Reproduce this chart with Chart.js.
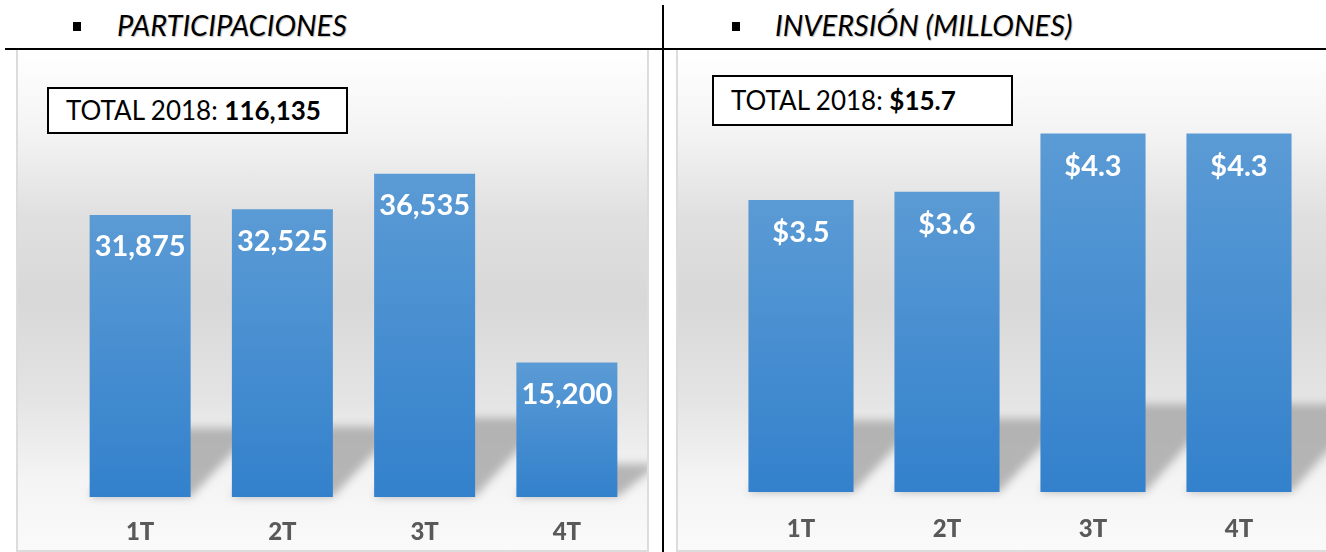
<!DOCTYPE html>
<html>
<head>
<meta charset="utf-8">
<script src="https://cdn.jsdelivr.net/npm/chart.js@4"></script>
<style>
  body { margin: 0; background: #fff; width: 1326px; height: 552px; position: relative; overflow: hidden; font-family: Lato, "Open Sans", sans-serif; }
  .hline { position: absolute; left: 5px; top: 48px; width: 1321px; height: 2px; background: #000; }
  .vline { position: absolute; left: 662px; top: 5px; width: 2px; height: 547px; background: #000; }
  .head { position: absolute; top: 7px; font-style: italic; font-size: 29px; color: #000; text-shadow: 1px 1px 1px rgba(0,0,0,0.25); }
  .bullet { position: absolute; top: 22px; width: 8px; height: 9px; background: #000; }
  .panel { position: absolute; top: 50px; height: 500px; border: 2px solid #dcdcdc; border-top: none;
    background: linear-gradient(#ffffff 0%, #f4f4f4 16%, #e0e0e0 33%, #d8d8d8 50%, #e4e4e4 70%, #f4f4f4 86%, #fafafa 100%); }
  .panel canvas { position: absolute; left: 0; top: 0; }
  .total { position: absolute; border: 2px solid #000; background: #fff; font-size: 26px; box-sizing: border-box; padding-left: 17px; }
</style>
</head>
<body>
<div class="bullet" style="left:73px"></div>
<div class="head" style="left:117px">PARTICIPACIONES</div>
<div class="bullet" style="left:732px"></div>
<div class="head" style="left:775px">INVERSIÓN (MILLONES)</div>
<div class="hline"></div>
<div class="vline"></div>

<div class="panel" style="left:16px; width:629px;"><canvas id="partChart" width="629" height="500"></canvas></div>
<div class="panel" style="left:676px; width:648px;"><canvas id="invChart" width="648" height="500"></canvas></div>

<div class="total" style="left:47px; top:87px; width:301px; height:47px; line-height:42px;">TOTAL 2018: <b id="partTotal"></b></div>
<div class="total" style="left:712px; top:75px; width:301px; height:51px; line-height:46px;">TOTAL 2018: <b id="invTotal"></b></div>

<script>
// quarters and values
const quarters = ['1T', '2T', '3T', '4T'];
const participaciones = [31875, 32525, 36535, 15200];
const inversion = [3.5, 3.6, 4.3, 4.3];  // millions
const partTotal = '116,135';
const invTotal = '$15.7';

document.getElementById('partTotal').textContent = partTotal;
document.getElementById('invTotal').textContent = invTotal;

// per-bar vertical gradient
function barGradient(c) {
    if (c.type !== 'data') return '#4a8fd2';
    const chart = c.chart;
    const y = chart.scales.y;
    const top = y.getPixelForValue(c.raw);
    const base = y.getPixelForValue(0);
    if (!isFinite(top) || !isFinite(base) || top === base) return '#4a8fd2';
    const g = chart.ctx.createLinearGradient(0, top, 0, base);
    g.addColorStop(0, '#5b9bd5');
    g.addColorStop(1, '#3381cc');
    return g;
}

// gray cast shadow behind the bars
const shadowPlugin = {
    id: 'barShadow',
    beforeDatasetsDraw(chart) {
        const ctx = chart.ctx;
        ctx.save();
        ctx.filter = 'blur(4px)';
        ctx.fillStyle = 'rgba(165,165,165,0.8)';
        chart.getDatasetMeta(0).data.forEach(bar => {
            const left = bar.x - bar.width / 2, right = bar.x + bar.width / 2;
            const sh = (bar.base - bar.y) * 0.245;
            const s = sh * 0.65;
            ctx.beginPath();
            ctx.moveTo(left, bar.base);
            ctx.lineTo(right, bar.base);
            ctx.lineTo(right + s + 20, bar.base - sh);
            ctx.lineTo(left + s, bar.base - sh);
            ctx.closePath();
            ctx.fill();
        });
        ctx.restore();
    }
};

// value labels inside the top of each bar
const valuePlugin = {
    id: 'valueLabels',
    afterDatasetsDraw(chart, args, opts) {
        const ctx = chart.ctx;
        ctx.save();
        ctx.fillStyle = '#fff';
        ctx.font = 'bold 29px Lato, "Open Sans", sans-serif';
        ctx.textAlign = 'center';
        ctx.textBaseline = 'middle';
        const ds = chart.data.datasets[0];
        chart.getDatasetMeta(0).data.forEach((bar, i) => {
            ctx.fillText(opts.format(ds.data[i]), bar.x, bar.y + opts.offset);
        });
        ctx.restore();
    }
};

function makeChart(id, values, max, pad, axisH, tickPad, barPct, fmt, offset) {
    const ctx = document.getElementById(id).getContext('2d');
    return new Chart(ctx, {
        type: 'bar',
        data: {
            labels: quarters,
            datasets: [{ data: values, backgroundColor: barGradient, borderWidth: 0,
                barPercentage: barPct, categoryPercentage: 1 }]
        },
        options: {
            responsive: false,
            animation: false,
            layout: { padding: pad },
            scales: {
                y: { display: false, min: 0, max: max },
                x: {
                    grid: { display: false, drawTicks: false },
                    border: { display: false },
                    afterFit: s => { s.height = axisH; },
                    ticks: { color: '#595959', padding: tickPad, font: { family: 'Lato', size: 24, weight: 900 } }
                }
            },
            plugins: {
                legend: { display: false },
                tooltip: { enabled: false },
                valueLabels: { format: fmt, offset: offset }
            }
        },
        plugins: [shadowPlugin, valuePlugin]
    });
}

makeChart('partChart', participaciones, 45000, { top: 49, left: 51, right: 9, bottom: 0 }, 53, 21, 0.71,
    v => v.toLocaleString('en-US'), 32);
makeChart('invChart', inversion, 5, { top: 25, left: 50, right: 14, bottom: 0 }, 58, 23, 0.72,
    v => '$' + v.toFixed(1), 33);
</script>
</body>
</html>
